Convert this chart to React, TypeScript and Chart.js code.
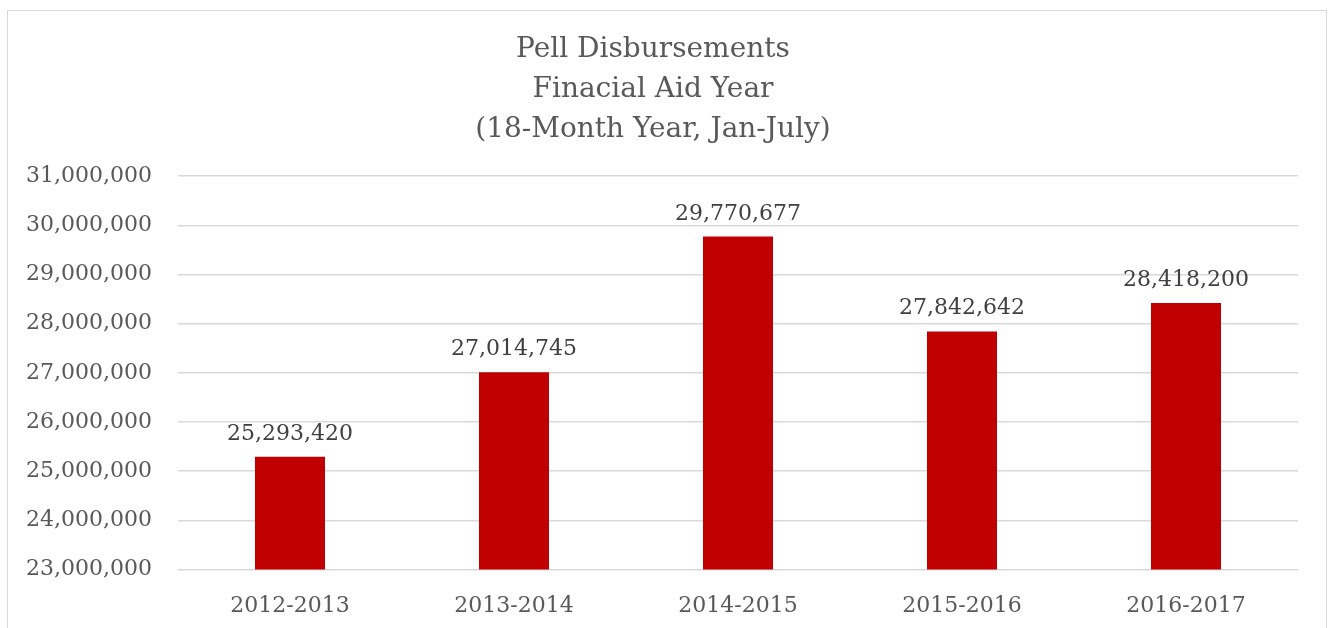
import React, { useEffect, useRef } from "react";
import { Chart, registerables } from "chart.js";

Chart.register(...registerables);

const categories = ["2012-2013", "2013-2014", "2014-2015", "2015-2016", "2016-2017"];
const disbursements = [25293420, 27014745, 29770677, 27842642, 28418200];
const titleLines = ["Pell Disbursements", "Finacial Aid Year", "(18-Month Year, Jan-July)"];
const yMin = 23000000;
const yMax = 31000000;
const yStep = 1000000;

const FONT = "'DejaVu Serif', serif";

const fmt = (v: number) => v.toLocaleString("en-US");

const valueLabels = {
  id: "valueLabels",
  afterDatasetsDraw(chart: any) {
    const ctx = chart.ctx;
    const meta = chart.getDatasetMeta(0);
    ctx.save();
    ctx.fillStyle = "#404040";
    ctx.font = `22px ${FONT}`;
    ctx.textAlign = "center";
    ctx.textBaseline = "alphabetic";
    meta.data.forEach((bar: any, i: number) => {
      ctx.fillText(fmt(disbursements[i]), bar.x, bar.y - 17);
    });
    ctx.restore();
  },
};

export default function App() {
  const ref = useRef<HTMLCanvasElement | null>(null);
  useEffect(() => {
    if (!ref.current) return;
    const chart = new Chart(ref.current, {
      type: "bar",
      data: {
        labels: categories,
        datasets: [
          {
            data: disbursements,
            backgroundColor: "#C00000",
            barPercentage: 0.3125,
            categoryPercentage: 1,
          },
        ],
      },
      options: {
        animation: false,
        responsive: false,
        layout: { padding: { left: 0, right: 28, top: 0, bottom: 15 } },
        plugins: {
          legend: { display: false },
          tooltip: { enabled: false },
          title: {
            display: true,
            text: titleLines,
            color: "#595959",
            font: { family: FONT, size: 28, weight: "normal", lineHeight: 1.43 },
            padding: { top: 19, bottom: 26 },
          },
        },
        scales: {
          x: {
            grid: { display: false },
            border: { display: false },
            ticks: {
              color: "#595959",
              font: { family: FONT, size: 22 },
              padding: 15,
            },
          },
          y: {
            min: yMin,
            max: yMax,
            border: { display: false },
            grid: { color: "#d9d9d9", lineWidth: 1.5, drawTicks: false },
            ticks: {
              stepSize: yStep,
              color: "#595959",
              font: { family: FONT, size: 22 },
              padding: 26,
              callback: (v: any) => fmt(Number(v)),
            },
            afterFit: (scale: any) => {
              scale.width = 170;
            },
          },
        },
      },
      plugins: [valueLabels],
    });
    return () => chart.destroy();
  }, []);

  return (
    <div
      style={{
        position: "fixed",
        left: 7,
        top: 10,
        width: 1320,
        height: 640,
        border: "1px solid #d9d9d9",
        boxSizing: "border-box",
        background: "#fff",
      }}
    >
      <canvas ref={ref} width={1318} height={638} style={{ display: "block" }} />
    </div>
  );
}
